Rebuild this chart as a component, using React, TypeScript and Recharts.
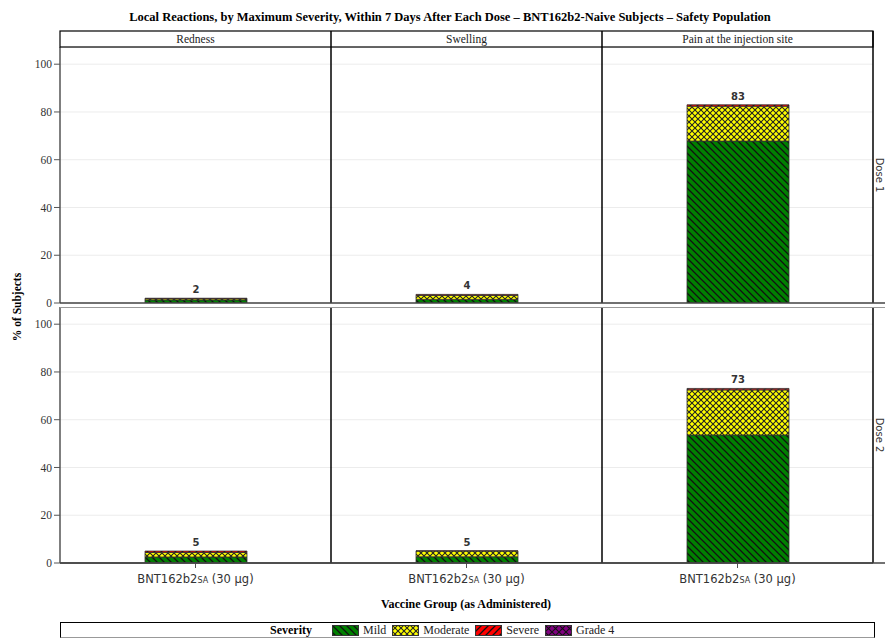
import { BarChart, Bar, XAxis, YAxis, CartesianGrid, LabelList } from 'recharts'

const reactions = ['Redness', 'Swelling', 'Pain at the injection site']
const doses = ['Dose 1', 'Dose 2']
const severities = ['Mild', 'Moderate', 'Severe', 'Grade 4']
const groupName = ['BNT162b2', 'SA', ' (30 µg)']
const yTicks = [0, 20, 40, 60, 80, 100]

// % of subjects, one value per reaction (Redness, Swelling, Pain)
const dose1Mild = [1.3, 1.5, 67.8]
const dose1Moderate = [0.5, 1.7, 14.6]
const dose1Severe = [0.2, 0.4, 0.6]
const dose1Grade4 = [0, 0, 0]
const dose1Total = [2, 4, 83]

const dose2Mild = [2.5, 2.6, 53.6]
const dose2Moderate = [1.9, 2.4, 18.9]
const dose2Severe = [0.6, 0.1, 0.6]
const dose2Grade4 = [0, 0, 0]
const dose2Total = [5, 5, 73]

const SERIF = '"Liberation Serif", "DejaVu Serif", serif'
const SANS = '"DejaVu Sans", sans-serif'

const COL_X = [60, 331, 602]
const COL_W = 271
const ROW_Y = [47, 307]
const PANEL_H = 256
const Y_AXIS_W = 60
const X_AXIS_H = 40
const TOP_ROW_PAD = 8
const Y_MAX = 107.2
const RIGHT = COL_X[2] + COL_W

const patternId: Record<string, string> = {
  Mild: 'pat-mild',
  Moderate: 'pat-moderate',
  Severe: 'pat-severe',
  'Grade 4': 'pat-grade4',
}

const doseSeries = [
  [dose1Mild, dose1Moderate, dose1Severe, dose1Grade4, dose1Total],
  [dose2Mild, dose2Moderate, dose2Severe, dose2Grade4, dose2Total],
]

function panelData(d: number, r: number) {
  const [mild, moderate, severe, grade4, total] = doseSeries[d]
  return [
    {
      group: groupName.join(''),
      Mild: mild[r],
      Moderate: moderate[r],
      Severe: severe[r],
      'Grade 4': grade4[r],
      total: total[r],
    },
  ]
}

function Patterns() {
  return (
    <svg width={0} height={0} style={{ position: 'absolute' }}>
      <defs>
        <pattern id="pat-mild" width={7} height={7} patternUnits="userSpaceOnUse">
          <rect width={7} height={7} fill="#008000" />
          <path d="M0,0 L7,7 M-1,6 L1,8 M6,-1 L8,1" stroke="#111" strokeWidth={1.3} />
        </pattern>
        <pattern id="pat-moderate" width={6} height={6} patternUnits="userSpaceOnUse">
          <rect width={6} height={6} fill="#ffff00" />
          <path d="M0,0 L6,6 M6,0 L0,6" stroke="#222" strokeWidth={1.1} />
        </pattern>
        <pattern id="pat-severe" width={7} height={7} patternUnits="userSpaceOnUse">
          <rect width={7} height={7} fill="#ff0000" />
          <path d="M0,7 L7,0 M-1,1 L1,-1 M6,8 L8,6" stroke="#111" strokeWidth={1.3} />
        </pattern>
        <pattern id="pat-grade4" width={7} height={7} patternUnits="userSpaceOnUse">
          <rect width={7} height={7} fill="#800080" />
          <path d="M0,0 L7,7 M7,0 L0,7" stroke="#111" strokeWidth={1.1} />
        </pattern>
      </defs>
    </svg>
  )
}

function GroupTick(props: any) {
  const { x, y } = props
  return (
    <text x={x} y={y + 13} textAnchor="middle" fontFamily={SANS} fontSize={11.5} fill="#333">
      {groupName[0]}
      <tspan fontSize={8}>{groupName[1]}</tspan>
      {groupName[2]}
    </text>
  )
}

function Panel({ d, r }: { d: number; r: number }) {
  const showY = r === 0
  const showX = d === 1
  const width = showY ? Y_AXIS_W + COL_W : COL_W
  const bottomPad = showX ? 0 : TOP_ROW_PAD
  const height = PANEL_H + (showX ? X_AXIS_H : bottomPad)
  return (
    <BarChart
      width={width}
      height={height}
      data={panelData(d, r)}
      margin={{ top: 0, right: 0, bottom: bottomPad, left: 0 }}
      barSize={102}
    >
      <CartesianGrid vertical={false} stroke="#ececec" />
      <XAxis
        dataKey="group"
        hide={!showX}
        height={X_AXIS_H}
        interval={0}
        tick={<GroupTick />}
        tickLine={{ stroke: '#555' }}
        axisLine={{ stroke: '#444', strokeWidth: 1.5 }}
        tickSize={5}
      />
      <YAxis
        hide={!showY}
        width={Y_AXIS_W}
        domain={[0, Y_MAX]}
        ticks={yTicks}
        interval={0}
        allowDataOverflow
        tick={{ fontFamily: SERIF, fontSize: 11.5, fill: '#333' }}
        tickLine={{ stroke: '#555' }}
        axisLine={{ stroke: '#555', strokeWidth: 1.5 }}
        tickSize={6}
      />
      {severities.map((s) => (
        <Bar
          key={s}
          dataKey={s}
          stackId="severity"
          fill={`url(#${patternId[s]})`}
          stroke="#333"
          strokeWidth={0.8}
          isAnimationActive={false}
        >
          {s === 'Severe' && (
            <LabelList
              dataKey="total"
              position="top"
              offset={5}
              fill="#333"
              fontFamily={SANS}
              fontSize={10}
              fontWeight="bold"
            />
          )}
        </Bar>
      ))}
    </BarChart>
  )
}

function Frame() {
  return (
    <svg width={885} height={640} style={{ position: 'absolute', left: 0, top: 0, pointerEvents: 'none' }}>
      <text x={450} y={21} textAnchor="middle" fontFamily={SERIF} fontSize={12.5} fontWeight="bold" fill="#000">
        Local Reactions, by Maximum Severity, Within 7 Days After Each Dose – BNT162b2-Naive Subjects – Safety Population
      </text>
      <rect x={COL_X[0]} y={31} width={RIGHT - COL_X[0]} height={16} fill="none" stroke="#000" strokeWidth={1.2} />
      {reactions.map((r, c) => (
        <text key={r} x={COL_X[c] + COL_W / 2} y={43} textAnchor="middle" fontFamily={SERIF} fontSize={11.5} fill="#222">
          {r}
        </text>
      ))}
      {ROW_Y.map((top, d) => (
        <g key={d}>
          {COL_X.slice(1).concat(RIGHT).map((x) => (
            <line key={x} x1={x} x2={x} y1={top - (d === 0 ? 16 : 0)} y2={top + PANEL_H} stroke="#000" strokeWidth={1.5} />
          ))}
          {d === 1 && <line x1={COL_X[0]} x2={885} y1={top + 0.5} y2={top + 0.5} stroke="#999" strokeWidth={1} />}
          <line x1={COL_X[0]} x2={885} y1={top + PANEL_H} y2={top + PANEL_H} stroke="#444" strokeWidth={1.5} />
          <text
            transform={`translate(${RIGHT + 3}, ${top + PANEL_H / 2}) rotate(90)`}
            textAnchor="middle"
            fontFamily={SANS}
            fontSize={10}
            fill="#333"
          >
            {doses[d]}
          </text>
        </g>
      ))}
      <text
        transform={`translate(21, 307) rotate(-90)`}
        textAnchor="middle"
        fontFamily={SERIF}
        fontSize={11.5}
        fontWeight="bold"
        fill="#000"
      >
        % of Subjects
      </text>
      <text x={466} y={608} textAnchor="middle" fontFamily={SERIF} fontSize={12} fontWeight="bold" fill="#000">
        Vaccine Group (as Administered)
      </text>
    </svg>
  )
}

function SeverityLegend() {
  return (
    <div
      style={{
        position: 'absolute',
        left: COL_X[0],
        top: 622,
        width: 815,
        height: 16,
        border: '1px solid #000',
        borderBottomColor: '#999',
        display: 'flex',
        alignItems: 'center',
        paddingLeft: 209,
        boxSizing: 'border-box',
        fontFamily: SERIF,
        fontSize: 12,
        color: '#222',
      }}
    >
      <span style={{ fontWeight: 'bold', color: '#000', marginRight: 20 }}>Severity</span>
      {severities.map((s) => (
        <span key={s} style={{ display: 'flex', alignItems: 'center', marginRight: 6 }}>
          <svg width={27} height={11} style={{ marginRight: 4 }}>
            <rect x={0.5} y={0.5} width={26} height={10} fill={`url(#${patternId[s]})`} stroke="#333" />
          </svg>
          {s}
        </span>
      ))}
    </div>
  )
}

export default function App() {
  return (
    <div style={{ position: 'absolute', left: 0, top: 0, width: 885, height: 640, background: '#fff', overflow: 'hidden' }}>
      <Patterns />
      {doses.map((dose, d) =>
        reactions.map((r, c) => (
          <div
            key={dose + r}
            style={{ position: 'absolute', left: c === 0 ? COL_X[0] - Y_AXIS_W : COL_X[c], top: ROW_Y[d] }}
          >
            <Panel d={d} r={c} />
          </div>
        ))
      )}
      <Frame />
      <SeverityLegend />
    </div>
  )
}
